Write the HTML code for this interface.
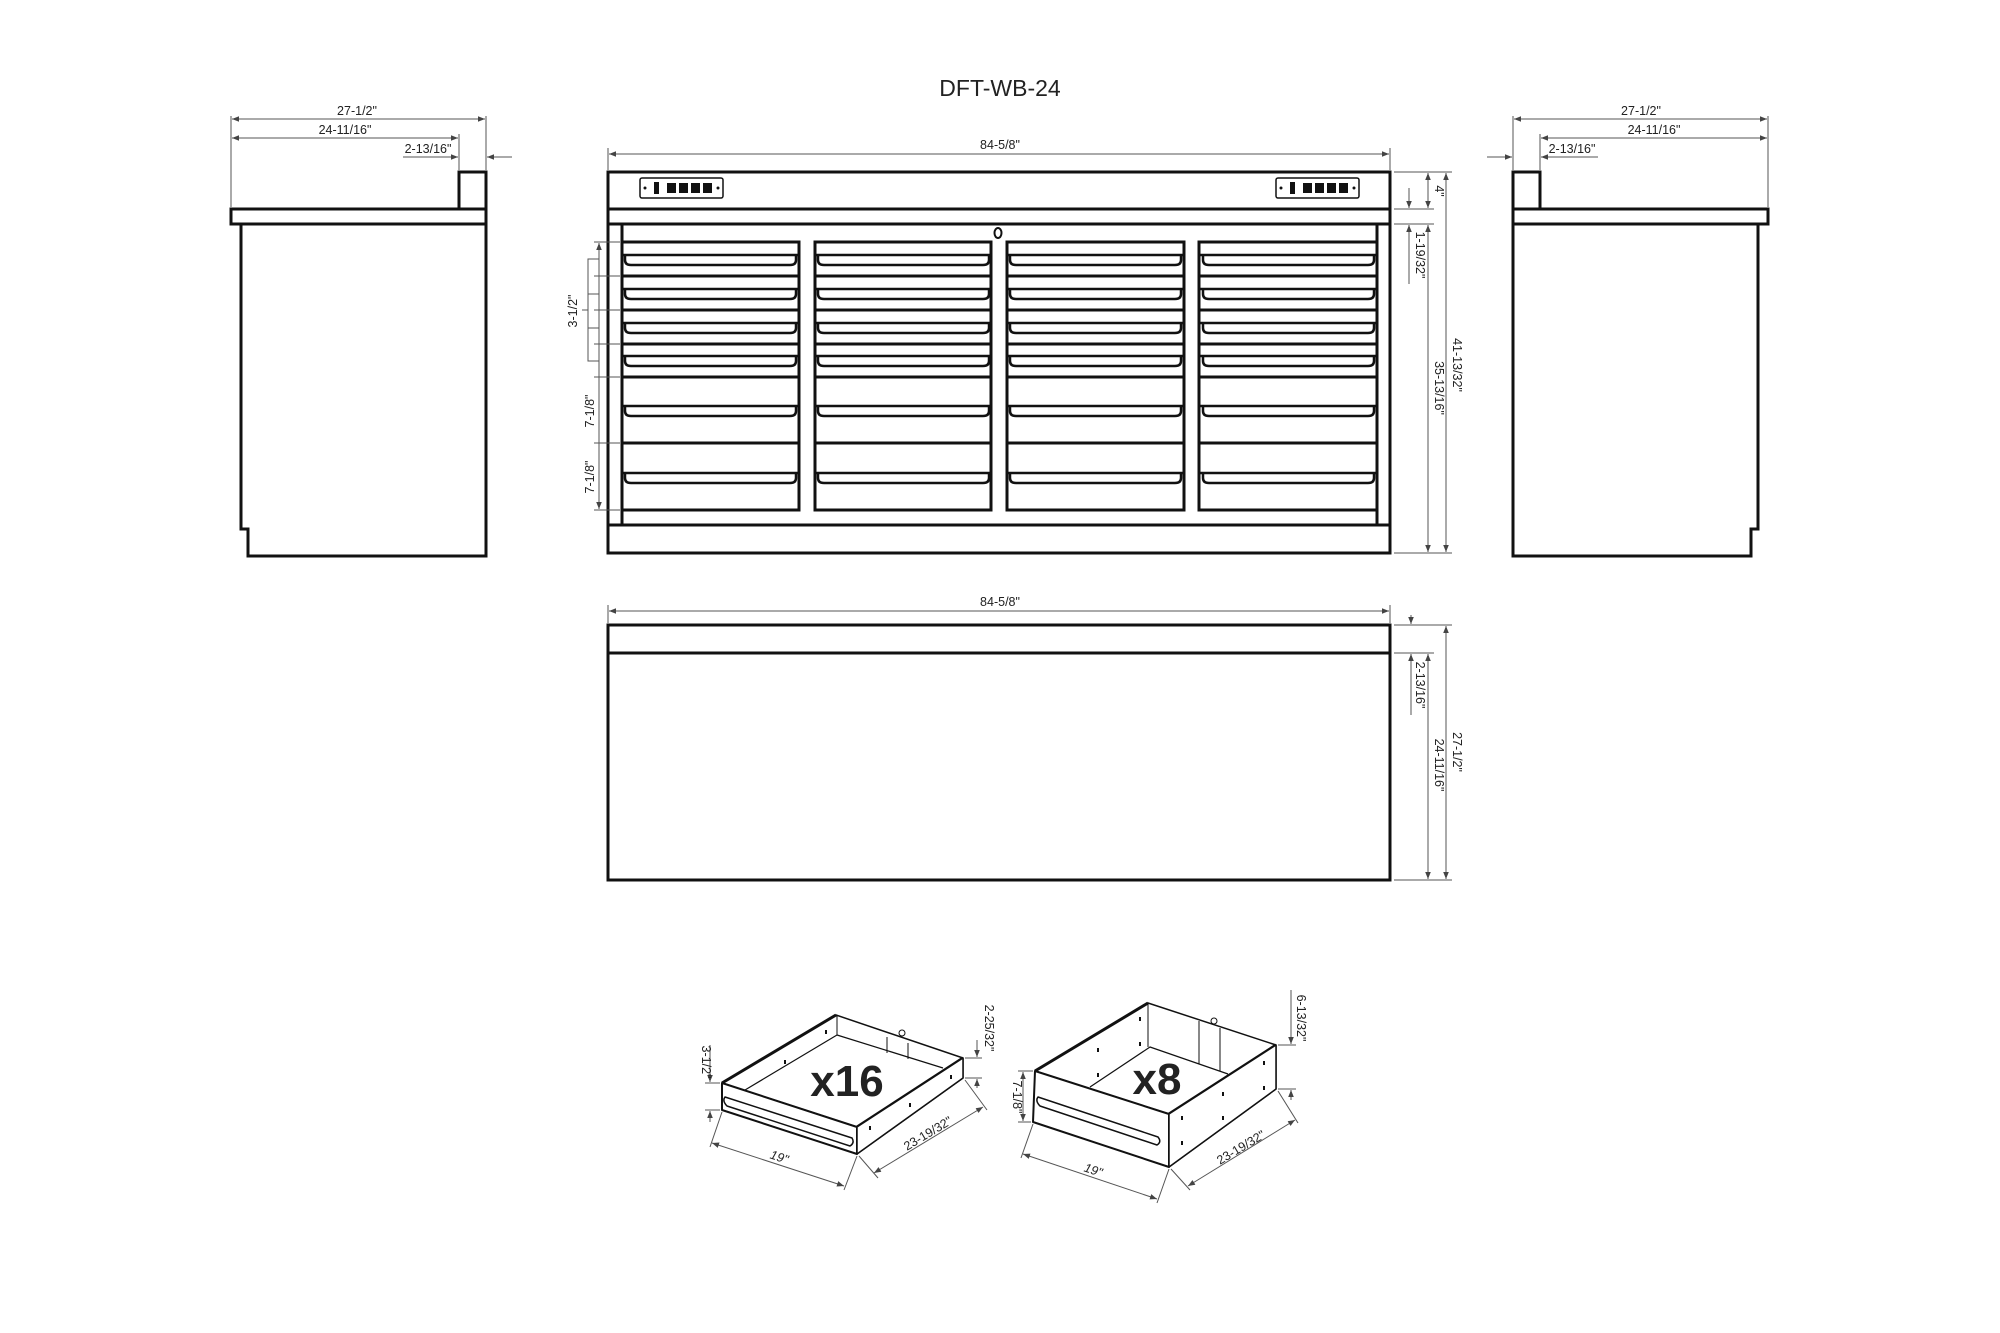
<!DOCTYPE html>
<html><head><meta charset="utf-8"><style>
html,body{margin:0;padding:0;background:#fff;}
svg{display:block;}
text{font-family:"Liberation Sans",sans-serif;fill:#222;}
.d{font-size:12.5px;}
.o{fill:none;stroke:#111;stroke-width:3;}
.t{fill:none;stroke:#111;stroke-width:2;}
.m{fill:none;stroke:#555;stroke-width:1;}
</style></head><body>
<svg width="2000" height="1333" viewBox="0 0 2000 1333" xmlns="http://www.w3.org/2000/svg">
<defs>
<marker id="a" viewBox="0 0 10 10" refX="10" refY="5" markerWidth="7" markerHeight="7" orient="auto-start-reverse"><path d="M0,1 L10,5 L0,9 z" fill="#444"/></marker>
<path id="h" d="M0,0 L177,0 M3,0 L3,5 Q3,10 9,10 L168,10 Q174,10 174,5 L174,0" fill="none" stroke="#111" stroke-width="2.5"/>
<g id="out">
<rect x="0" y="0" width="83" height="20" rx="2" fill="#fff" stroke="#111" stroke-width="1.5"/>
<circle cx="5" cy="10" r="1.5" fill="#111"/><circle cx="78" cy="10" r="1.5" fill="#111"/>
<rect x="14" y="4" width="5" height="12" fill="#111"/>
<rect x="27" y="5" width="9" height="10" fill="#111"/><rect x="39" y="5" width="9" height="10" fill="#111"/>
<rect x="51" y="5" width="9" height="10" fill="#111"/><rect x="63" y="5" width="9" height="10" fill="#111"/>
</g>
</defs>

<text x="1000" y="96" text-anchor="middle" font-size="23">DFT-WB-24</text>

<!-- LEFT SIDE VIEW -->
<path class="o" d="M231,209 H486 V224 H231 Z M459,209 V172 H486 V209 M241,224 V529 H248 V556 H486 V224"/>
<g class="m">
<line x1="231" y1="116" x2="231" y2="207"/><line x1="459" y1="134" x2="459" y2="170"/><line x1="486" y1="116" x2="486" y2="170"/>
<line x1="232" y1="119" x2="485" y2="119" marker-start="url(#a)" marker-end="url(#a)"/>
<line x1="232" y1="138" x2="458" y2="138" marker-start="url(#a)" marker-end="url(#a)"/>
<line x1="403" y1="157" x2="458" y2="157" marker-end="url(#a)"/>
<line x1="512" y1="157" x2="487" y2="157" marker-end="url(#a)"/>
</g>
<text class="d" x="357" y="115" text-anchor="middle">27-1/2"</text>
<text class="d" x="345" y="134" text-anchor="middle">24-11/16"</text>
<text class="d" x="428" y="153" text-anchor="middle">2-13/16"</text>

<!-- RIGHT SIDE VIEW -->
<path class="o" d="M1513,209 H1768 V224 H1513 Z M1540,209 V172 H1513 V209 M1758,224 V529 H1751 V556 H1513 V224"/>
<g class="m">
<line x1="1768" y1="116" x2="1768" y2="207"/><line x1="1540" y1="134" x2="1540" y2="170"/><line x1="1513" y1="116" x2="1513" y2="170"/>
<line x1="1514" y1="119" x2="1767" y2="119" marker-start="url(#a)" marker-end="url(#a)"/>
<line x1="1541" y1="138" x2="1767" y2="138" marker-start="url(#a)" marker-end="url(#a)"/>
<line x1="1487" y1="157" x2="1512" y2="157" marker-end="url(#a)"/>
<line x1="1598" y1="157" x2="1541" y2="157" marker-end="url(#a)"/>
</g>
<text class="d" x="1641" y="115" text-anchor="middle">27-1/2"</text>
<text class="d" x="1654" y="134" text-anchor="middle">24-11/16"</text>
<text class="d" x="1572" y="153" text-anchor="middle">2-13/16"</text>

<!-- FRONT VIEW -->
<rect class="o" x="608" y="172" width="782" height="381"/>
<path class="o" d="M608,209 H1390 M608,224 H1390 M622,224 V525 M1377,224 V525 M608,525 H1390"/>
<use href="#out" x="640" y="178"/><use href="#out" x="1276" y="178"/>
<ellipse cx="998" cy="233" rx="3.5" ry="5" fill="#fff" stroke="#111" stroke-width="2"/>
<g class="o">
<rect x="622" y="242" width="177" height="268"/><rect x="815" y="242" width="176" height="268"/>
<rect x="1007" y="242" width="177" height="268"/><rect x="1199" y="242" width="178" height="268"/>
<path d="M622,276 H799 M622,310 H799 M622,344 H799 M622,377 H799 M622,443 H799
M815,276 H991 M815,310 H991 M815,344 H991 M815,377 H991 M815,443 H991
M1007,276 H1184 M1007,310 H1184 M1007,344 H1184 M1007,377 H1184 M1007,443 H1184
M1199,276 H1377 M1199,310 H1377 M1199,344 H1377 M1199,377 H1377 M1199,443 H1377"/>
</g>
<g>
<use href="#h" x="622" y="255"/><use href="#h" x="622" y="289"/><use href="#h" x="622" y="323"/><use href="#h" x="622" y="356"/><use href="#h" x="622" y="406"/><use href="#h" x="622" y="473"/>
<use href="#h" x="815" y="255"/><use href="#h" x="815" y="289"/><use href="#h" x="815" y="323"/><use href="#h" x="815" y="356"/><use href="#h" x="815" y="406"/><use href="#h" x="815" y="473"/>
<use href="#h" x="1007" y="255"/><use href="#h" x="1007" y="289"/><use href="#h" x="1007" y="323"/><use href="#h" x="1007" y="356"/><use href="#h" x="1007" y="406"/><use href="#h" x="1007" y="473"/>
<use href="#h" x="1200" y="255"/><use href="#h" x="1200" y="289"/><use href="#h" x="1200" y="323"/><use href="#h" x="1200" y="356"/><use href="#h" x="1200" y="406"/><use href="#h" x="1200" y="473"/>
</g>
<!-- front dims -->
<g class="m">
<line x1="608" y1="148" x2="608" y2="170"/><line x1="1390" y1="148" x2="1390" y2="170"/>
<line x1="609" y1="154" x2="1389" y2="154" marker-start="url(#a)" marker-end="url(#a)"/>
<line x1="1394" y1="172" x2="1452" y2="172"/><line x1="1394" y1="209" x2="1434" y2="209"/>
<line x1="1394" y1="224" x2="1434" y2="224"/><line x1="1394" y1="553" x2="1452" y2="553"/>
<line x1="1428" y1="173" x2="1428" y2="208" marker-start="url(#a)" marker-end="url(#a)"/>
<line x1="1409" y1="188" x2="1409" y2="208" marker-end="url(#a)"/>
<line x1="1409" y1="284" x2="1409" y2="225" marker-end="url(#a)"/>
<line x1="1428" y1="225" x2="1428" y2="552" marker-start="url(#a)" marker-end="url(#a)"/>
<line x1="1446" y1="173" x2="1446" y2="552" marker-start="url(#a)" marker-end="url(#a)"/>
<line x1="599" y1="243" x2="599" y2="509" marker-start="url(#a)" marker-end="url(#a)"/>
<line x1="594" y1="242" x2="620" y2="242"/><line x1="594" y1="276" x2="620" y2="276"/>
<line x1="594" y1="310" x2="620" y2="310"/><line x1="594" y1="344" x2="620" y2="344"/>
<line x1="594" y1="377" x2="620" y2="377"/><line x1="594" y1="443" x2="620" y2="443"/>
<line x1="594" y1="510" x2="620" y2="510"/>
<path d="M599,259 H588 V361 H599 M588,294 H599 M588,328 H599 M588,310 H582"/>
</g>
<text class="d" x="1000" y="149" text-anchor="middle">84-5/8"</text>
<text class="d" transform="translate(1435,191) rotate(90)" text-anchor="middle">4"</text>
<text class="d" transform="translate(1416,255) rotate(90)" text-anchor="middle">1-19/32"</text>
<text class="d" transform="translate(1435,388) rotate(90)" text-anchor="middle">35-13/16"</text>
<text class="d" transform="translate(1453,365) rotate(90)" text-anchor="middle">41-13/32"</text>
<text class="d" transform="translate(577,311) rotate(-90)" text-anchor="middle">3-1/2"</text>
<text class="d" transform="translate(594,411) rotate(-90)" text-anchor="middle">7-1/8"</text>
<text class="d" transform="translate(594,477) rotate(-90)" text-anchor="middle">7-1/8"</text>

<!-- TOP VIEW -->
<rect class="o" x="608" y="625" width="782" height="255"/>
<line class="o" x1="608" y1="653" x2="1390" y2="653"/>
<g class="m">
<line x1="608" y1="605" x2="608" y2="623"/><line x1="1390" y1="605" x2="1390" y2="623"/>
<line x1="609" y1="611" x2="1389" y2="611" marker-start="url(#a)" marker-end="url(#a)"/>
<line x1="1394" y1="625" x2="1452" y2="625"/><line x1="1394" y1="653" x2="1434" y2="653"/><line x1="1394" y1="880" x2="1452" y2="880"/>
<line x1="1411" y1="615" x2="1411" y2="624" marker-end="url(#a)"/>
<line x1="1411" y1="715" x2="1411" y2="654" marker-end="url(#a)"/>
<line x1="1428" y1="654" x2="1428" y2="879" marker-start="url(#a)" marker-end="url(#a)"/>
<line x1="1446" y1="626" x2="1446" y2="879" marker-start="url(#a)" marker-end="url(#a)"/>
</g>
<text class="d" x="1000" y="606" text-anchor="middle">84-5/8"</text>
<text class="d" transform="translate(1416,685) rotate(90)" text-anchor="middle">2-13/16"</text>
<text class="d" transform="translate(1435,765) rotate(90)" text-anchor="middle">24-11/16"</text>
<text class="d" transform="translate(1453,752) rotate(90)" text-anchor="middle">27-1/2"</text>

<!-- DRAWER x16 -->
<g stroke="#111" fill="#fff" stroke-linejoin="round">
<path d="M722,1083 L836,1015 L963,1058 L963,1078 L857,1154 L857,1127 Z" stroke-width="1.5"/>
<path d="M745,1090 L837,1035 L943,1068" fill="none" stroke-width="1.2"/>
<path d="M837,1015 V1035 M887,1037 V1053 M908,1043 V1059" fill="none" stroke-width="1"/>
<circle cx="902" cy="1033" r="3" fill="#fff" stroke-width="1"/>
<path d="M722,1083 L836,1015 M857,1127 L963,1058" fill="none" stroke-width="3"/>
<path d="M722,1083 L857,1127 L857,1154 L722,1110 Z" stroke-width="2"/>
<path d="M857,1127 L963,1058 L963,1078 L857,1154 Z" stroke-width="1.5"/>
<path d="M725,1097 L852,1138 Q855,1143 850,1146 L727,1106 Q722,1101 725,1097 Z" stroke-width="1.5"/>
<rect x="869" y="1126" width="2" height="4" fill="#111" stroke="none"/><rect x="909" y="1103" width="2" height="4" fill="#111" stroke="none"/><rect x="950" y="1075" width="2" height="4" fill="#111" stroke="none"/>
<rect x="784" y="1060" width="2" height="4" fill="#111" stroke="none"/><rect x="825" y="1030" width="2" height="4" fill="#111" stroke="none"/>
</g>
<text x="847" y="1096" text-anchor="middle" font-size="44" font-weight="bold" fill="#111">x16</text>
<g class="m">
<line x1="705" y1="1083" x2="720" y2="1083"/><line x1="705" y1="1110" x2="720" y2="1110"/>
<line x1="710" y1="1045" x2="710" y2="1082" marker-end="url(#a)"/>
<line x1="710" y1="1122" x2="710" y2="1111" marker-end="url(#a)"/>
<line x1="965" y1="1058" x2="982" y2="1058"/><line x1="965" y1="1078" x2="982" y2="1078"/>
<line x1="977" y1="1040" x2="977" y2="1057" marker-end="url(#a)"/>
<line x1="977" y1="1088" x2="977" y2="1079" marker-end="url(#a)"/>
<line x1="722" y1="1112" x2="710" y2="1147"/><line x1="857" y1="1156" x2="844" y2="1190"/>
<line x1="712" y1="1143" x2="844" y2="1186" marker-start="url(#a)" marker-end="url(#a)"/>
<line x1="859" y1="1156" x2="878" y2="1178"/><line x1="965" y1="1080" x2="987" y2="1110"/>
<line x1="874" y1="1173" x2="983" y2="1107" marker-start="url(#a)" marker-end="url(#a)"/>
</g>
<text class="d" transform="translate(702,1062) rotate(90)" text-anchor="middle">3-1/2"</text>
<text class="d" transform="translate(985,1028) rotate(90)" text-anchor="middle">2-25/32"</text>
<text class="d" font-style="italic" transform="translate(778,1161) rotate(18)" text-anchor="middle">19"</text>
<text class="d" transform="translate(930,1137) rotate(-31)" text-anchor="middle">23-19/32"</text>

<!-- DRAWER x8 -->
<g stroke="#111" fill="#fff" stroke-linejoin="round">
<path d="M1035,1071 L1148,1003 L1276,1045 L1276,1089 L1169,1167 L1169,1114 Z" stroke-width="1.5"/>
<path d="M1090,1087 L1150,1047 L1228,1074" fill="none" stroke-width="1.2"/>
<path d="M1148,1003 V1047 M1199,1021 V1064 M1220,1028 V1071" fill="none" stroke-width="1"/>
<circle cx="1214" cy="1021" r="3" fill="#fff" stroke-width="1"/>
<path d="M1035,1071 L1148,1003 M1169,1114 L1276,1045" fill="none" stroke-width="3"/>
<path d="M1035,1071 L1169,1114 L1169,1167 L1033,1122 Z" stroke-width="2"/>
<path d="M1169,1114 L1276,1045 L1276,1089 L1169,1167 Z" stroke-width="1.5"/>
<path d="M1038,1097 L1158,1137 Q1162,1142 1157,1145 L1040,1106 Q1035,1101 1038,1097 Z" stroke-width="1.5"/>
<rect x="1181" y="1116" width="2" height="4" fill="#111" stroke="none"/><rect x="1181" y="1141" width="2" height="4" fill="#111" stroke="none"/>
<rect x="1222" y="1092" width="2" height="4" fill="#111" stroke="none"/><rect x="1222" y="1116" width="2" height="4" fill="#111" stroke="none"/>
<rect x="1263" y="1061" width="2" height="4" fill="#111" stroke="none"/><rect x="1263" y="1086" width="2" height="4" fill="#111" stroke="none"/>
<rect x="1097" y="1048" width="2" height="4" fill="#111" stroke="none"/><rect x="1097" y="1073" width="2" height="4" fill="#111" stroke="none"/>
<rect x="1139" y="1017" width="2" height="4" fill="#111" stroke="none"/><rect x="1139" y="1042" width="2" height="4" fill="#111" stroke="none"/>
</g>
<text x="1157" y="1094" text-anchor="middle" font-size="44" font-weight="bold" fill="#111">x8</text>
<g class="m">
<line x1="1018" y1="1071" x2="1033" y2="1071"/><line x1="1018" y1="1122" x2="1031" y2="1122"/>
<line x1="1023" y1="1072" x2="1023" y2="1121" marker-start="url(#a)" marker-end="url(#a)"/>
<line x1="1278" y1="1045" x2="1296" y2="1045"/><line x1="1278" y1="1089" x2="1296" y2="1089"/>
<line x1="1291" y1="990" x2="1291" y2="1044" marker-end="url(#a)"/>
<line x1="1291" y1="1100" x2="1291" y2="1090" marker-end="url(#a)"/>
<line x1="1033" y1="1124" x2="1021" y2="1158"/><line x1="1169" y1="1169" x2="1157" y2="1203"/>
<line x1="1023" y1="1154" x2="1157" y2="1199" marker-start="url(#a)" marker-end="url(#a)"/>
<line x1="1171" y1="1169" x2="1190" y2="1190"/><line x1="1278" y1="1091" x2="1298" y2="1123"/>
<line x1="1188" y1="1186" x2="1295" y2="1120" marker-start="url(#a)" marker-end="url(#a)"/>
</g>
<text class="d" transform="translate(1013,1097) rotate(90)" text-anchor="middle">7-1/8"</text>
<text class="d" transform="translate(1297,1018) rotate(90)" text-anchor="middle">6-13/32"</text>
<text class="d" font-style="italic" transform="translate(1092,1174) rotate(18)" text-anchor="middle">19"</text>
<text class="d" transform="translate(1243,1151) rotate(-31)" text-anchor="middle">23-19/32"</text>
</svg>
</body></html>
